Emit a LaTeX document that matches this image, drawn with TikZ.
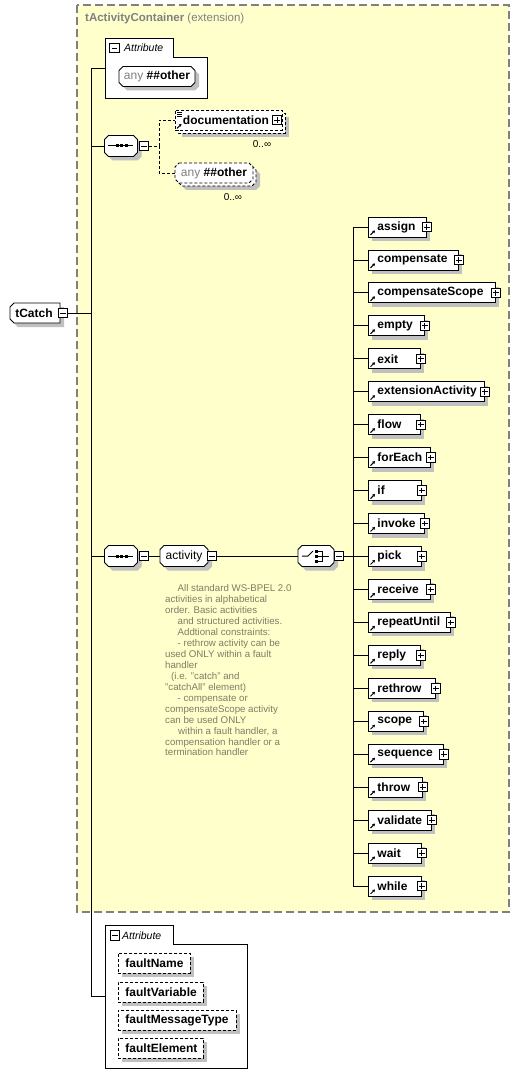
\documentclass[tikz,border=0pt]{standalone}
\usepackage{fontspec}
\setmainfont{Liberation Sans}
\usetikzlibrary{shadows,arrows.meta,calc}
\definecolor{contfill}{RGB}{255,255,204}
\definecolor{contline}{RGB}{128,128,128}
\definecolor{annot}{RGB}{125,125,100}
\definecolor{shad}{RGB}{192,192,192}
\definecolor{titlegray}{RGB}{128,128,128}
\tikzset{
  ln/.style={line width=0.9pt},
  shd/.style={drop shadow={shadow xshift=4pt,shadow yshift=-4pt,fill=shad,opacity=1}},
  pmbox/.style={draw,fill=white,line width=0.9pt,minimum size=9.5pt,inner sep=0pt},
  minusbox/.style={pmbox,path picture={\draw[line width=0.9pt] ([xshift=2pt]path picture bounding box.west) -- ([xshift=-2pt]path picture bounding box.east);}},
  plusbox/.style={pmbox,path picture={\draw[line width=0.9pt] ([xshift=2pt]path picture bounding box.west) -- ([xshift=-2pt]path picture bounding box.east) ([yshift=-2pt]path picture bounding box.north) -- ([yshift=2pt]path picture bounding box.south);}},
  elem/.style={draw,fill=white,ln,shd,minimum height=20pt,inner xsep=0pt,inner ysep=0pt,anchor=west,align=left,font=\fontsize{12}{13}\selectfont\bfseries},
  attrbox/.style={draw,dashed,dash pattern=on 3pt off 2pt,fill=white,ln,shd,minimum height=20pt,inner xsep=0pt,inner ysep=0pt,anchor=west,align=left,font=\fontsize{12}{13}\selectfont\bfseries},
  octa/.style={draw,fill=white,ln,shd},
  octad/.style={draw,fill=white,ln,dashed,dash pattern=on 3pt off 2pt},
  refarrow/.style={-{Triangle[length=2.5pt,width=3pt]},line width=1pt},
  tabtext/.style={anchor=west,inner sep=0pt,font=\fontsize{10.5}{12}\selectfont\itshape},
  occ/.style={inner sep=0pt,font=\fontsize{10}{12}\selectfont},
}
\newcommand\octbox[7]{%
  \path[#6] (#2-#4+4,#3-#5) -- (#2+#4-4,#3-#5) -- (#2+#4,#3-#5+4) -- (#2+#4,#3+#5-4) -- (#2+#4-4,#3+#5) -- (#2-#4+4,#3+#5) -- (#2-#4,#3+#5-4) -- (#2-#4,#3-#5+4) -- cycle;
  \node[inner sep=0pt,minimum width={2*#4},minimum height={2*#5}] (#1) at (#2,#3) {#7};
}
\begin{document}
\begin{tikzpicture}[x=1pt,y=-1pt,font=\fontsize{12}{13}\selectfont]
\useasboundingbox (0,0) rectangle (520,1086);
\fill[white] (0,0) rectangle (520,1086);
% container
\path[fill=contfill,draw=contline,line width=1.3pt,dash pattern=on 8pt off 4pt] (77,5) rectangle (509,912);
\node[anchor=west,inner sep=0pt,text=titlegray,font=\fontsize{11.5}{13}\selectfont] (title) at (85,19) {\textbf{tActivityContainer} (extension)};

% tCatch
\path[draw,fill=white,ln,shd] (14,303) -- (60,303) -- (60,323) -- (14,323) -- (10,319) -- (10,307) -- cycle;
\node[inner sep=0pt,minimum width=50pt,minimum height=20pt,font=\fontsize{12}{13}\selectfont\bfseries] (tc) at (34,313) {tCatch};
\node[minusbox] (tcm) at (63,313) {};

% top attribute frame
\path[draw,fill=white,ln] (105,38) -- (173,38) -- (173,57) -- (207,57) -- (207,98) -- (105,98) -- cycle;
\node[inner sep=0pt,minimum width=102pt,minimum height=60pt] (attrA) at (156,68) {};
\node[minusbox] (attrAm) at (114.5,48) {};
\node[tabtext] (attrAt) at (124,48) {Attribute};
\octbox{anyA}{157}{76.5}{38}{10}{octa}{{\color{titlegray}any}\ \textbf{\#\#other}}

% sequence 1
\octbox{seq1}{121}{146}{16.5}{10.5}{octa}{}
\begin{scope}[shift={(seq1.center)}]
  \draw[line width=1pt] (-13,0) -- (12,0);
  \foreach \dx in {-4,0.5,5} \fill (\dx-1.5,-1.5) rectangle (\dx+1.5,1.5);
\end{scope}
\node[minusbox] (s1m) at (144,146) {};

% documentation (0..inf)
\path[octad,shd] (178,113) rectangle (285,133);
\node[draw,dashed,dash pattern=on 3pt off 2pt,fill=white,ln,minimum height=20pt,inner xsep=0pt,inner ysep=0pt,anchor=west,align=left,text width=107pt,font=\fontsize{12}{13}\selectfont\bfseries] (doc) at (175,120) {\noindent\hspace*{7.5pt}documentation};
\node[plusbox] (docp) at (277,120) {};
\draw[line width=0.8pt] (177,112.5) -- (182,112.5) (177,114.5) -- (182,114.5) (177,116.5) -- (182,116.5);
\draw[refarrow] ([shift={(2,-2)}]doc.south west) -- ++(4.5,-4.5);
\node[occ] (dococc) at (262,144) {0..∞};

% any ##other (0..inf)
\octbox{anyBback}{217}{176}{39}{10}{octad,shd}{}
\octbox{anyB}{214}{173}{39}{10}{octad}{{\color{titlegray}any}\ \textbf{\#\#other}}
\node[occ] (anyBocc) at (233,197) {0..∞};

\draw[ln,dash pattern=on 3pt off 2pt] (s1m.east) -- ++(10,0) |- (doc.west);
\draw[ln,dash pattern=on 3pt off 2pt] (s1m.east) -- ++(10,0) |- (anyB.west);

% sequence 2, activity group, choice
\octbox{seq2}{121}{556}{16.5}{10.5}{octa}{}
\begin{scope}[shift={(seq2.center)}]
  \draw[line width=1pt] (-13,0) -- (12,0);
  \foreach \dx in {-4,0.5,5} \fill (\dx-1.5,-1.5) rectangle (\dx+1.5,1.5);
\end{scope}
\node[minusbox] (s2m) at (144,556) {};
\octbox{act}{184}{556}{24}{10.5}{octa}{activity}
\node[minusbox] (actm) at (212,556) {};
\octbox{ch}{316}{556}{18}{10.5}{octa}{}
\begin{scope}[shift={(ch.center)}]
  \draw[line width=1pt] (-14,0) -- (-8,0) -- (-3,-5);
  \foreach \dy in {-5,0,5} \fill (-1,\dy-1.5) rectangle (2,\dy+1.5);
  \draw[line width=1pt] (2,-5) -- (6,-5) -- (6,5) -- (2,5) (2,0) -- (13,0);
\end{scope}
\node[minusbox] (chm) at (339,556) {};
\draw[ln] (s2m.east) -- (act.west);
\draw[ln] (actm.east) -- (ch.west);

% annotation
\node[anchor=north west,inner sep=0pt,align=left,text=annot,font=\fontsize{9.7}{10.95}\selectfont] (note) at (165,584.5) {%
\hspace*{12.5pt}All standard WS-BPEL 2.0\\
activities in alphabetical\\
order. Basic activities\\
\hspace*{12.5pt}and structured activities.\\
\hspace*{12.5pt}Addtional constraints:\\
\hspace*{12.5pt}- rethrow activity can be\\
used ONLY within a fault\\
handler\\
\hspace*{6pt}(i.e. "catch" and\\
"catchAll" element)\\
\hspace*{12.5pt}- compensate or\\
compensateScope activity\\
can be used ONLY\\
\hspace*{13pt}within a fault handler, a\\
compensation handler or a\\
termination handler};

% elements of the choice
\foreach \t/\r [count=\i from 0] in {assign/426,compensate/458,compensateScope/495,empty/424,exit/420,extensionActivity/484,flow/420,forEach/430,if/421,invoke/424,pick/421,receive/430,repeatUntil/450,reply/420,rethrow/435,scope/423,sequence/443,throw/422,validate/431,wait/421,while/421}{
  \pgfmathsetmacro\cy{227+32.95*\i}
  \pgfmathsetmacro\w{\r-368}
  \node[elem,text width=\w pt] (e\i) at (368,\cy) {\noindent\hspace*{9pt}\t};
  \node[plusbox] (p\i) at (e\i.east) {};
  \draw[refarrow] ([shift={(2.5,-2.5)}]e\i.south west) -- ++(4.5,-4.5);
  \draw[ln] (chm.east) -- ++(9,0) |- (e\i.west);
}

% bottom attribute frame
\path[draw,fill=white,ln] (105,925) -- (173,925) -- (173,944) -- (247,944) -- (247,1068) -- (105,1068) -- cycle;
\node[inner sep=0pt,minimum width=142pt,minimum height=143pt] (attrB) at (176,996.5) {};
\node[minusbox] (attrBm) at (115,935.5) {};
\node[tabtext] (attrBt) at (122,935.5) {Attribute};
\node[attrbox,text width=72pt] (fn) at (118,963) {\noindent\hspace*{7pt}faultName};
\node[attrbox,text width=85pt] (fv) at (118,992) {\noindent\hspace*{7pt}faultVariable};
\node[attrbox,text width=118pt] (fm) at (118,1020) {\noindent\hspace*{7pt}faultMessageType};
\node[attrbox,text width=85pt] (fe) at (118,1048) {\noindent\hspace*{7pt}faultElement};

% trunk connectors from tCatch
\draw[ln] (tcm.east) -- ++(23,0) |- (attrA.west);
\draw[ln] (tcm.east) -- ++(23,0) |- (seq1.west);
\draw[ln] (tcm.east) -- ++(23,0) |- (seq2.west);
\draw[ln] (tcm.east) -- ++(23,0) |- (attrB.west);
\end{tikzpicture}
\end{document}
